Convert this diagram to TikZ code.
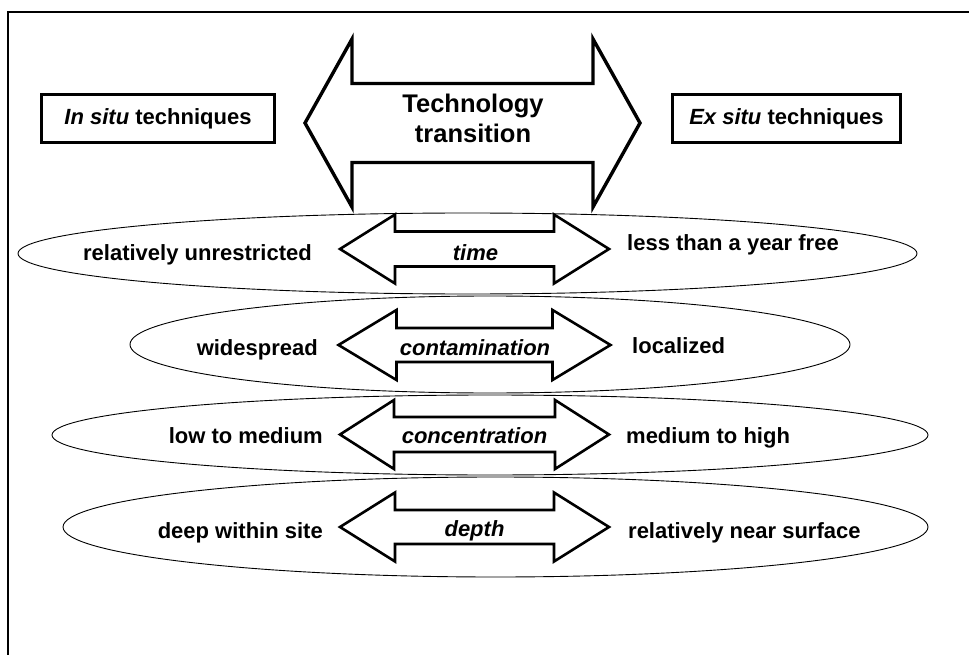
\documentclass[tikz,border=0pt]{standalone}
\usepackage{fontspec}
\setmainfont{Liberation Sans}

% Closed outline of a two-headed block arrow.
% #1 style, #2 centre x, #3 centre y, #4 half length (tip to centre),
% #5 head length, #6 half shaft height, #7 half head height
\newcommand{\twowayarrow}[7]{%
  \draw[#1] ({#2-#4},#3) -- ({#2-#4+#5},{#3-#7}) -- ({#2-#4+#5},{#3-#6})
    -- ({#2+#4-#5},{#3-#6}) -- ({#2+#4-#5},{#3-#7}) -- ({#2+#4},#3)
    -- ({#2+#4-#5},{#3+#7}) -- ({#2+#4-#5},{#3+#6}) -- ({#2-#4+#5},{#3+#6})
    -- ({#2-#4+#5},{#3+#7}) -- cycle;}

\tikzset{
  frameline/.style={line width=1.4pt},
  techbox/.style={draw, line width=3.2pt, inner sep=0pt,
    minimum height=48pt, font=\fontsize{22}{26}\selectfont\bfseries},
  bigarrow/.style={draw, fill=white, line width=3.4pt, line join=miter},
  smallarrow/.style={draw, fill=white, line width=2.6pt, line join=miter},
  band/.style={draw, line width=0.9pt},
  lbl/.style={inner sep=0pt, font=\fontsize{22}{26}\selectfont\bfseries},
  axislbl/.style={lbl, font=\fontsize{22}{26}\selectfont\bfseries\itshape},
  titlelbl/.style={inner sep=0pt, font=\fontsize{25.5}{30}\selectfont\bfseries}
}

\begin{document}
\begin{tikzpicture}[x=1pt, y=-1pt]
\useasboundingbox (0,0) rectangle (969,655);

% open frame: left and top edges
\draw[frameline] (8,660) -- (8,12) -- (975,12);

% technique boxes
\node[techbox, minimum width=233pt] (insitu) at (158,118.5)
  {\textit{In situ} techniques};
\node[techbox, minimum width=228pt] (exsitu) at (786.5,118.5)
  {\textit{Ex situ} techniques};

% four criteria bands
\draw[band] (467.5,253.5) ellipse [x radius=449.5pt, y radius=40.5pt];
\draw[band] (490,344.5) ellipse [x radius=360pt, y radius=48.5pt];
\draw[band] (490,435) ellipse [x radius=438pt, y radius=40pt];
\draw[band] (495.5,527) ellipse [x radius=432.5pt, y radius=50pt];

% central transition arrow
\twowayarrow{bigarrow}{472.5}{123}{167.5}{47}{39.5}{84}
\node[titlelbl, anchor=base] (title1) at (473,113) {Technology};
\node[titlelbl, anchor=base] (title2) at (473,143) {transition};

% criterion arrows
\twowayarrow{smallarrow}{474.5}{249}{134.5}{55}{17.5}{34.5}
\twowayarrow{smallarrow}{474.5}{345}{136}{58}{17}{35}
\twowayarrow{smallarrow}{474.5}{434.5}{134.5}{54}{17.5}{34.5}
\twowayarrow{smallarrow}{474.5}{527}{134.5}{55}{17}{34.5}

% criterion names
\node[axislbl, anchor=base] (time) at (475.5,260) {time};
\node[axislbl, anchor=base] (contam) at (475,355) {contamination};
\node[axislbl, anchor=base] (conc) at (474.5,443) {concentration};
\node[axislbl, anchor=base] (depth) at (474.5,536) {depth};

% in situ side
\node[lbl, anchor=base east] (l1) at (312,260) {relatively unrestricted};
\node[lbl, anchor=base east] (l2) at (318,355) {widespread};
\node[lbl, anchor=base east] (l3) at (323,443) {low to medium};
\node[lbl, anchor=base east] (l4) at (323,538) {deep within site};

% ex situ side
\node[lbl, anchor=base west] (r1) at (627,251) {less than a year free};
\node[lbl, anchor=base west] (r2) at (632,353) {localized};
\node[lbl, anchor=base west] (r3) at (626,443) {medium to high};
\node[lbl, anchor=base west] (r4) at (628,538) {relatively near surface};
\end{tikzpicture}
\end{document}
